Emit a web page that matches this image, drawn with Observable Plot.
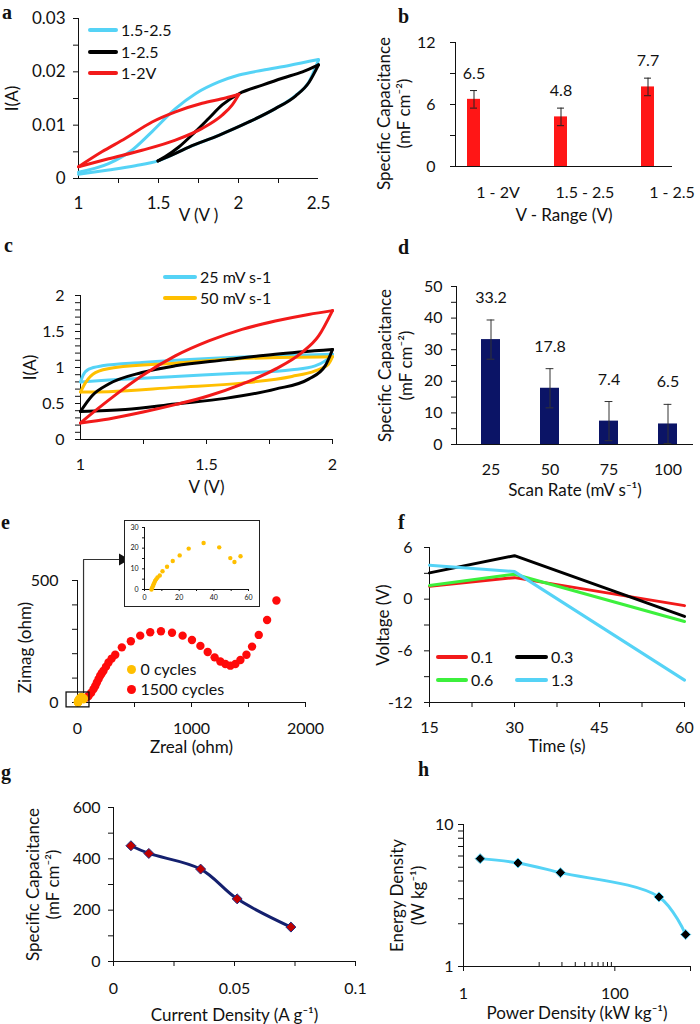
<!DOCTYPE html>
<html><head><meta charset="utf-8">
<script src="https://cdn.jsdelivr.net/npm/d3@7"></script>
<script src="https://cdn.jsdelivr.net/npm/@observablehq/plot@0.6"></script>
<style>
body{margin:0;background:#fff;}
#fig{position:relative;width:700px;height:1024px;font-family:Lato,"Noto Sans",sans-serif;color:#111;overflow:hidden;background:#fff}
.tag{position:absolute;font-family:"Liberation Serif","DejaVu Serif",serif;font-weight:bold;font-size:20px;line-height:22px}
.leg{position:absolute;height:20px;display:flex;align-items:center;white-space:nowrap;font-size:16px;line-height:20px}
.leg .sw{display:inline-block;height:4px;border-radius:2px}
.leg .dt{display:inline-block;width:9px;height:9px;border-radius:50%}
</style></head>
<body><div id="fig"></div>
<script>
// ---------- data ----------
// panel a : CV at different voltage windows, I (A) vs V (V)
const aSeries = ["1.5-2.5", "1-2.5", "1-2V"];
const aCyanUp  = [[1,0.0012],[1.188,0.0028],[1.334,0.0053],[1.46,0.0088],[1.606,0.0131],[1.731,0.0159],[1.877,0.0181],[2.003,0.0194],[2.149,0.0203],[2.316,0.0212],[2.5,0.0223]];
const aCyanLow = [[1,0.0008],[1.188,0.0016],[1.355,0.0024],[1.497,0.0033],[1.69,0.0059],[1.877,0.0081],[2.065,0.0106],[2.23,0.0131],[2.358,0.0156],[2.44,0.0181],[2.5,0.0222]];
const aBlackUp = [[1.497,0.0033],[1.543,0.0041],[1.627,0.0059],[1.731,0.0088],[1.815,0.0113],[1.898,0.0138],[2.003,0.0159],[2.149,0.0175],[2.274,0.0188],[2.40,0.0200],[2.5,0.0213]];
const aBlackLow= [[1.497,0.0033],[1.606,0.0047],[1.69,0.0059],[1.877,0.0081],[2.065,0.0106],[2.23,0.0131],[2.358,0.0155],[2.44,0.0180],[2.5,0.0213]];
const aRedUp   = [[1,0.0022],[1.146,0.0050],[1.292,0.0075],[1.46,0.0106],[1.606,0.0125],[1.773,0.0141],[1.919,0.0151],[2.003,0.0158]];
const aRedLow  = [[1,0.0022],[1.188,0.0037],[1.397,0.0053],[1.606,0.0072],[1.773,0.0094],[1.898,0.0119],[1.961,0.0138],[2.003,0.0158]];

// panel b : specific capacitance vs voltage range
const bRange = ["1 - 2V", "1.5 - 2.5", "1 - 2.5"];
const bCap = [6.5, 4.8, 7.7];
const bErr = [0.85, 0.85, 0.85];

// panel c : CV at different scan rates
const cSeries = ["25 mV s-1", "50 mV s-1"];
const cCyanUp  = [[1,0.80],[1.01,0.89],[1.033,0.977],[1.086,1.023],[1.244,1.069],[1.509,1.124],[1.773,1.161],[2,1.184]];
const cCyanLow = [[1,0.80],[1.112,0.825],[1.376,0.876],[1.64,0.922],[1.839,0.968],[1.931,1.023],[1.971,1.092],[2,1.184]];
const cOrUp    = [[1,0.66],[1.02,0.79],[1.059,0.93],[1.139,1.0],[1.376,1.06],[1.64,1.124],[2,1.15]];
const cOrLow   = [[1,0.66],[1.112,0.664],[1.376,0.724],[1.64,0.783],[1.839,0.876],[1.931,0.954],[1.984,1.046],[2,1.15]];
const cBlkUp   = [[1,0.39],[1.046,0.608],[1.112,0.77],[1.244,0.93],[1.376,1.023],[1.575,1.106],[1.773,1.184],[2,1.25]];
const cBlkLow  = [[1,0.39],[1.178,0.415],[1.376,0.493],[1.575,0.571],[1.773,0.70],[1.905,0.839],[1.971,1.023],[2,1.25]];
const cRedUp   = [[1,0.23],[1.059,0.40],[1.152,0.654],[1.244,0.885],[1.376,1.161],[1.509,1.369],[1.641,1.53],[1.773,1.645],[1.905,1.737],[2,1.79]];
const cRedLow  = [[1,0.23],[1.112,0.286],[1.244,0.378],[1.376,0.484],[1.509,0.608],[1.641,0.77],[1.773,0.977],[1.878,1.207],[1.945,1.438],[2,1.79]];

// panel d : specific capacitance vs scan rate
const dRate = ["25", "50", "75", "100"];
const dCap = [33.2, 17.8, 7.4, 6.5];
const dErr = [6.2, 6.2, 6.2, 6.2];

// panel e : Nyquist, Zreal vs Zimag (ohm)
const eSeries = ["0 cycles", "1500 cycles"];
const e1500 = [[67,18],[82,22],[97,27],[120,40],[141,55],[156,68],[170,82],[185,96],[199,110],[213,120],[228,130],[250,147],[272,164],[300,180],[331,196],[389,226],[468,251],[550,274],[638,288],[732,292],[829,286],[922,274],[1004,256],[1078,232],[1142,207],[1203,185],[1253,168],[1297,158],[1341,151],[1385,158],[1429,174],[1482,196],[1531,229],[1590,277],[1663,338],[1745,418]];
const e0 = [[4.0,0],[4.4,0.8],[4.8,1.6],[5.2,2.4],[5.6,3.2],[6.1,4.1],[6.7,4.9],[7.5,5.8],[8.8,6.8],[10.4,8.8],[13,11],[16.3,13.8],[20.3,16.5],[25.5,19.8],[34.1,22.5],[43.1,20.4],[49.5,15.2],[51.9,13.3],[55.4,16.1]];
const eZoomBox = {x1: -96, x2: 105, y1: -20, y2: 41};
const eLink = [[53,41],[53,586],[395,586]];

// panel f : voltage vs time
const fSeries = ["0.1", "0.3", "0.6", "1.3"];
const fTime = [15, 30, 60];
const fV01 = [1.5, 2.5, -0.75];
const fV03 = [3.05, 5.05, -2.0];
const fV06 = [1.6, 2.9, -2.6];
const fV13 = [3.95, 3.2, -9.4];

// panel g : specific capacitance vs current density
const gCurrent = [0.0072, 0.0146, 0.036, 0.0511, 0.0733];
const gCap = [451, 421, 360, 244, 134];

// panel h : Ragone plot
const hPower = [1.66, 5.24, 19.1, 383, 863];
const hEnergy = [5.75, 5.36, 4.58, 3.09, 1.68];

// ---------- style ----------
const cyan = "#55d3f6", red = "#f21a1a", orange = "#ffbf00", green = "#3cf03c", navy = "#0b1466", axisC = "#111";
const fig = document.getElementById("fig");
const pts = (arr, branch) => arr.map(([x, y]) => ({x, y, branch}));
const blank = () => "";
const num = d => String(d);
const TS = 17; // axis title size
const T = {textAnchor: "middle", lineAnchor: "middle", fontSize: TS};

function mk(left, top, opts, fs = 16) {
  const svg = Plot.plot({
    ...opts,
    x: {label: null, ...opts.x},
    y: {label: null, ...opts.y},
    style: `background:transparent;font-family:Lato,'Noto Sans',sans-serif;font-size:${fs}px;color:#111;overflow:visible`
  });
  svg.setAttribute("font-size", fs);
  svg.setAttribute("font-family", "Lato, 'Noto Sans', sans-serif");
  svg.style.position = "absolute";
  svg.style.left = left + "px";
  svg.style.top = top + "px";
  fig.appendChild(svg);
  return svg;
}
function tag(t, left, top) {
  const d = document.createElement("div");
  d.className = "tag"; d.textContent = t;
  d.style.left = left + "px"; d.style.top = top + "px";
  fig.appendChild(d);
}
function legLine(left, cy, w, color, label, fs = 16) {
  const d = document.createElement("div");
  d.className = "leg"; d.style.left = left + "px"; d.style.top = (cy - 10) + "px"; d.style.fontSize = fs + "px";
  d.innerHTML = `<span class="sw" style="width:${w}px;background:${color}"></span><span style="margin-left:3px">${label}</span>`;
  fig.appendChild(d);
}
function legDot(cx, cy, color, label, fs = 16) {
  const d = document.createElement("div");
  d.className = "leg"; d.style.left = (cx - 4.5) + "px"; d.style.top = (cy - 10) + "px"; d.style.fontSize = fs + "px";
  d.innerHTML = `<span class="dt" style="background:${color}"></span><span style="margin-left:5px">${label}</span>`;
  fig.appendChild(d);
}

// ---------- panel a ----------
mk(0, 0, {
  width: 350, height: 250, marginLeft: 78, marginRight: 32, marginTop: 18, marginBottom: 72,
  x: {domain: [1, 2.5]}, y: {domain: [0, 0.03]},
  marks: [
    Plot.ruleY([0], {stroke: axisC}), Plot.ruleX([1], {stroke: axisC}),
    Plot.axisX({ticks: [1, 1.5, 2, 2.5], tickSize: 0, tickPadding: 18, tickFormat: num, label: null}),
    Plot.axisX({ticks: [1.25, 1.5, 1.75, 2, 2.25], tickSize: 5, tickFormat: blank, label: null}),
    Plot.axisY({ticks: [0, 0.01, 0.02, 0.03], tickSize: 5, tickPadding: 8, tickFormat: d => d === 0 ? "0" : d.toFixed(2), label: null}),
    Plot.axisY({ticks: [0.005, 0.015, 0.025], tickSize: 5, tickFormat: blank, label: null}),
    Plot.line([...pts(aCyanUp, "u"), ...pts(aCyanLow, "l")], {x: "x", y: "y", z: "branch", stroke: cyan, strokeWidth: 3, curve: "monotone-x"}),
    Plot.line([...pts(aBlackUp, "u"), ...pts(aBlackLow, "l")], {x: "x", y: "y", z: "branch", stroke: "#000", strokeWidth: 3, curve: "monotone-x"}),
    Plot.line([...pts(aRedUp, "u"), ...pts(aRedLow, "l")], {x: "x", y: "y", z: "branch", stroke: red, strokeWidth: 3, curve: "monotone-x"}),
    Plot.text(["V (V )"], {...T, text: d => d, frameAnchor: "bottom", dy: 37}),
    Plot.text(["I(A)"], {...T, text: d => d, frameAnchor: "left", rotate: -90, dx: -66})
  ]
}, 17);
legLine(88, 30, 30, cyan, aSeries[0]);
legLine(88, 52, 30, "#000", aSeries[1]);
legLine(88, 73, 30, red, aSeries[2]);

// ---------- panel b ----------
const bRows = bRange.map((r, i) => ({r, v: bCap[i], e: bErr[i]}));
mk(350, 0, {
  width: 350, height: 250, marginLeft: 105, marginRight: 28, marginTop: 42, marginBottom: 84,
  x: {type: "band", domain: bRange, range: [79.25, 341.75], padding: 0}, y: {domain: [0, 12]},
  marks: [
    Plot.barY(bRows, {x: "r", y: "v", fill: "#ff1616", insetLeft: 37, insetRight: 37}),
    Plot.ruleX(bRows, {x: "r", y1: d => d.v - d.e, y2: d => d.v + d.e, stroke: "#222"}),
    Plot.tickY(bRows, {x: "r", y: d => d.v + d.e, insetLeft: 40, insetRight: 40, stroke: "#222"}),
    Plot.tickY(bRows, {x: "r", y: d => d.v - d.e, insetLeft: 40, insetRight: 40, stroke: "#222"}),
    Plot.text(bRows, {textAnchor: "middle", lineAnchor: "middle", x: "r", y: d => d.v + d.e, text: d => d.v.toFixed(1), dy: -17}),
    Plot.ruleY([0], {stroke: axisC}), Plot.frame({anchor: "left", stroke: axisC}),
    Plot.axisX({tickSize: 0, tickPadding: 20, dx: 24, label: null}),
    Plot.axisY({ticks: [0, 6, 12], tickSize: 5, tickPadding: 15, label: null}),
    Plot.axisY({ticks: [3, 9], tickSize: 5, tickFormat: blank, label: null}),
    Plot.text(["Specific Capacitance\n(mF cm⁻²)"], {...T, text: d => d, frameAnchor: "left", rotate: -90, dx: -62, dy: 9, lineHeight: 1.2}),
    Plot.text(["V - Range (V)"], {...T, text: d => d, frameAnchor: "bottom", dy: 49})
  ]
});

// ---------- panel c ----------
mk(0, 250, {
  width: 350, height: 255, marginLeft: 80, marginRight: 18, marginTop: 45, marginBottom: 66,
  x: {domain: [1, 2]}, y: {domain: [0, 2]},
  marks: [
    Plot.ruleY([0], {stroke: axisC}), Plot.ruleX([1], {stroke: axisC}),
    Plot.axisX({ticks: [1, 1.5, 2], tickSize: 0, tickPadding: 19, tickFormat: num, label: null}),
    Plot.axisX({ticks: [1.25, 1.5, 1.75, 2], tickSize: 5, tickFormat: blank, label: null}),
    Plot.axisY({ticks: [0, 0.5, 1, 1.5, 2], tickSize: 5, tickPadding: 11, tickFormat: num, label: null}),
    Plot.axisY({ticks: d3.range(1, 20).map(i => i / 10), tickSize: 5, tickFormat: blank, label: null}),
    Plot.line([...pts(cCyanUp, "u"), ...pts(cCyanLow, "l")], {x: "x", y: "y", z: "branch", stroke: cyan, strokeWidth: 3, curve: "monotone-x"}),
    Plot.line([...pts(cOrUp, "u"), ...pts(cOrLow, "l")], {x: "x", y: "y", z: "branch", stroke: orange, strokeWidth: 3, curve: "monotone-x"}),
    Plot.line([...pts(cBlkUp, "u"), ...pts(cBlkLow, "l")], {x: "x", y: "y", z: "branch", stroke: "#000", strokeWidth: 3, curve: "monotone-x"}),
    Plot.line([...pts(cRedUp, "u"), ...pts(cRedLow, "l")], {x: "x", y: "y", z: "branch", stroke: red, strokeWidth: 3, curve: "monotone-x"}),
    Plot.text(["V (V)"], {...T, text: d => d, frameAnchor: "bottom", dy: 48}),
    Plot.text(["I(A)"], {...T, text: d => d, frameAnchor: "left", rotate: -90, dx: -50})
  ]
});
legLine(163, 277, 34, cyan, cSeries[0]);
legLine(163, 298, 34, orange, cSeries[1]);

// ---------- panel d ----------
const dRows = dRate.map((r, i) => ({r, v: dCap[i], e: dErr[i]}));
mk(350, 250, {
  width: 350, height: 255, marginLeft: 106, marginRight: 7, marginTop: 36, marginBottom: 61,
  x: {type: "band", domain: dRate, range: [110.35, 347.65], padding: 0}, y: {domain: [0, 50]},
  marks: [
    Plot.barY(dRows, {x: "r", y: "v", fill: navy, insetLeft: 20, insetRight: 20}),
    Plot.ruleX(dRows, {x: "r", y1: d => Math.max(0, d.v - d.e), y2: d => d.v + d.e, stroke: "#333"}),
    Plot.tickY(dRows, {x: "r", y: d => d.v + d.e, insetLeft: 25.6, insetRight: 25.6, stroke: "#333"}),
    Plot.tickY(dRows, {x: "r", y: d => Math.max(0.3, d.v - d.e), insetLeft: 25.6, insetRight: 25.6, stroke: "#333"}),
    Plot.text(dRows, {textAnchor: "middle", lineAnchor: "middle", x: "r", y: d => d.v + d.e, text: d => d.v.toFixed(1), dy: -22}),
    Plot.ruleY([0], {stroke: axisC}), Plot.frame({anchor: "left", stroke: axisC}),
    Plot.axisX({tickSize: 0, tickPadding: 19, label: null}),
    Plot.axisY({ticks: [0, 10, 20, 30, 40, 50], tickSize: 5, tickPadding: 9, label: null}),
    Plot.axisY({ticks: [5, 15, 25, 35, 45], tickSize: 5, tickFormat: blank, label: null}),
    Plot.text(["Specific Capacitance\n(mF cm⁻²)"], {...T, text: d => d, frameAnchor: "left", rotate: -90, dx: -62, lineHeight: 1.25}),
    Plot.text(["Scan Rate (mV s⁻¹)"], {...T, text: d => d, frameAnchor: "bottom", dy: 46})
  ]
});

// ---------- panel e ----------
mk(0, 505, {
  width: 350, height: 255, marginLeft: 77, marginRight: 45, marginTop: 75, marginBottom: 58,
  x: {domain: [0, 2000]}, y: {domain: [0, 500]},
  marks: [
    Plot.ruleY([0], {stroke: axisC}), Plot.ruleX([0], {stroke: axisC}),
    Plot.axisX({ticks: [0, 1000, 2000], tickSize: 5, tickPadding: 15, tickFormat: num, label: null}),
    Plot.axisX({ticks: [500, 1500], tickSize: 5, tickFormat: blank, label: null}),
    Plot.axisY({ticks: [0, 500], tickSize: 5, tickPadding: 14, tickFormat: num, label: null}),
    Plot.axisY({ticks: [100, 200, 300, 400], tickSize: 5, tickFormat: blank, label: null}),
    Plot.line(eLink, {x: d => d[0], y: d => d[1], stroke: "#333", strokeWidth: 1.2}),
    Plot.dot([eLink[eLink.length - 1]], {x: d => d[0], y: d => d[1], symbol: "triangle", rotate: 90, r: 4.5, fill: "#111"}),
    Plot.dot(e1500, {x: d => d[0], y: d => d[1], r: 4.2, fill: "#ff0a0a"}),
    Plot.dot(e0, {x: d => d[0], y: d => d[1], r: 4.2, fill: orange}),
    Plot.rect([eZoomBox], {x1: "x1", x2: "x2", y1: "y1", y2: "y2", fill: "none", stroke: "#111", strokeWidth: 1.3}),
    Plot.text(["Zreal (ohm)"], {...T, text: d => d, frameAnchor: "bottom", dy: 45}),
    Plot.text(["Zimag (ohm)"], {...T, text: d => d, frameAnchor: "left", rotate: -90, dx: -52, dy: 6})
  ]
});
legDot(131, 669, orange, eSeries[0]);
legDot(131, 689, "#ff0a0a", eSeries[1]);
// inset
const inset = mk(124, 520, {
  width: 136, height: 87, marginLeft: 20, marginRight: 12, marginTop: 7, marginBottom: 18,
  x: {domain: [0, 60]}, y: {domain: [0, 30]},
  marks: [
    Plot.ruleY([0], {stroke: axisC}), Plot.ruleX([0], {stroke: axisC}),
    Plot.axisX({ticks: [0, 20, 40, 60], tickSize: 2, tickPadding: 4, label: null}),
    Plot.axisX({ticks: [10, 30, 50], tickSize: 2, tickFormat: blank, label: null}),
    Plot.axisY({ticks: [0, 10, 20, 30], tickSize: 2, tickPadding: 4, label: null}),
    Plot.axisY({ticks: [5, 15, 25], tickSize: 2, tickFormat: blank, label: null}),
    Plot.dot(e0, {x: d => d[0], y: d => d[1], r: 2.2, fill: orange})
  ]
}, 7);
inset.style.background = "#fff";
inset.style.outline = "1.5px solid #222";
inset.style.outlineOffset = "-1px";

// ---------- panel f ----------
const fAll = [fV01, fV03, fV06, fV13];
const fColors = [red, "#000", green, cyan];
mk(350, 505, {
  width: 350, height: 255, marginLeft: 79, marginRight: 16, marginTop: 42, marginBottom: 58,
  x: {domain: [15, 60]}, y: {domain: [-12, 6]},
  marks: [
    Plot.ruleY([-12], {stroke: axisC}), Plot.ruleX([15], {stroke: axisC}),
    Plot.axisX({ticks: [15, 30, 45, 60], tickSize: 5, tickPadding: 14, label: null}),
    Plot.axisX({ticks: [22.5, 37.5, 52.5], tickSize: 5, tickFormat: blank, label: null}),
    Plot.axisY({ticks: [-12, -6, 0, 6], tickSize: 5, tickPadding: 12, tickFormat: num, label: null}),
    Plot.axisY({ticks: [-9, -3, 3], tickSize: 5, tickFormat: blank, label: null}),
    ...fAll.map((vals, k) => Plot.line(fTime.map((t, i) => ({t, v: vals[i]})), {x: "t", y: "v", stroke: fColors[k], strokeWidth: 3})),
    Plot.text(["Time (s)"], {...T, text: d => d, frameAnchor: "bottom", dy: 44}),
    Plot.text(["Voltage (V)"], {...T, text: d => d, frameAnchor: "left", rotate: -90, dx: -46})
  ]
});
legLine(436, 657, 32, red, fSeries[0]);
legLine(515, 657, 33, "#000", fSeries[1]);
legLine(436, 680, 32, green, fSeries[2]);
legLine(515, 680, 33, cyan, fSeries[3]);

// ---------- panel h ----------
const hRows = hPower.map((p, i) => ({p, e: hEnergy[i]}));
mk(350, 760, {
  width: 350, height: 264, marginLeft: 113, marginRight: 10, marginTop: 64, marginBottom: 58,
  x: {type: "log", domain: [1, 1000]}, y: {type: "log", domain: [1, 10]},
  marks: [
    Plot.ruleY([1], {stroke: axisC}), Plot.ruleX([1], {stroke: axisC}),
    Plot.axisX({ticks: [1, 100, 1000], tickSize: 5, tickPadding: 16, tickFormat: d => d === 1000 ? "" : String(d), label: null}),
    Plot.axisX({ticks: [10, 20, 30, 40, 50, 60, 70, 80, 90], tickSize: -4, tickFormat: blank, label: null}),
    Plot.axisY({ticks: [1, 10], tickSize: 5, tickPadding: 5, tickFormat: num, label: null}),
    Plot.axisY({ticks: [2, 3, 4, 5, 6, 7, 8, 9], tickSize: 5, tickFormat: blank, label: null}),
    Plot.line(hRows, {x: "p", y: "e", stroke: cyan, strokeWidth: 3, curve: "catmull-rom"}),
    Plot.dot(hRows, {x: "p", y: "e", symbol: "diamond2", r: 4.5, fill: "#000", stroke: cyan, strokeWidth: 1}),
    Plot.text(["Power Density (kW kg⁻¹)"], {...T, text: d => d, frameAnchor: "bottom", dy: 47}),
    Plot.text(["Energy Density\n(W kg⁻¹)"], {...T, text: d => d, frameAnchor: "left", rotate: -90, dx: -57, lineHeight: 1.25})
  ]
});

// ---------- panel g ----------
const gRows = gCurrent.map((c, i) => ({c, s: gCap[i]}));
mk(0, 760, {
  width: 400, height: 264, marginLeft: 113, marginRight: 45, marginTop: 47, marginBottom: 63,
  x: {domain: [0, 0.1]}, y: {domain: [0, 600]},
  marks: [
    Plot.ruleY([0], {stroke: axisC}), Plot.ruleX([0], {stroke: axisC}),
    Plot.axisX({ticks: [0, 0.05, 0.1], tickSize: 5, tickPadding: 16, tickFormat: num, label: null}),
    Plot.axisX({ticks: [0.025, 0.075], tickSize: 5, tickFormat: blank, label: null}),
    Plot.axisY({ticks: [0, 200, 400, 600], tickSize: 5, tickPadding: 8, label: null}),
    Plot.axisY({ticks: [100, 300, 500], tickSize: 5, tickFormat: blank, label: null}),
    Plot.line(gRows, {x: "c", y: "s", stroke: "#14206e", strokeWidth: 3, curve: "catmull-rom"}),
    Plot.dot(gRows, {x: "c", y: "s", symbol: "diamond2", r: 4.5, fill: "#c00000", stroke: "#1f2a80", strokeWidth: 1}),
    Plot.text(["Current Density (A g⁻¹)"], {...T, text: d => d, frameAnchor: "bottom", dy: 54}),
    Plot.text(["Specific Capacitance\n(mF cm⁻²)"], {...T, text: d => d, frameAnchor: "left", rotate: -90, dx: -70.5, lineHeight: 1.15})
  ]
});

// ---------- panel tags ----------
tag("a", 2, 1); tag("b", 398, 5); tag("c", 4, 234); tag("d", 398, 236);
tag("e", 1, 511); tag("f", 398, 511); tag("g", 1, 761); tag("h", 418, 758);
</script>
</body></html>
